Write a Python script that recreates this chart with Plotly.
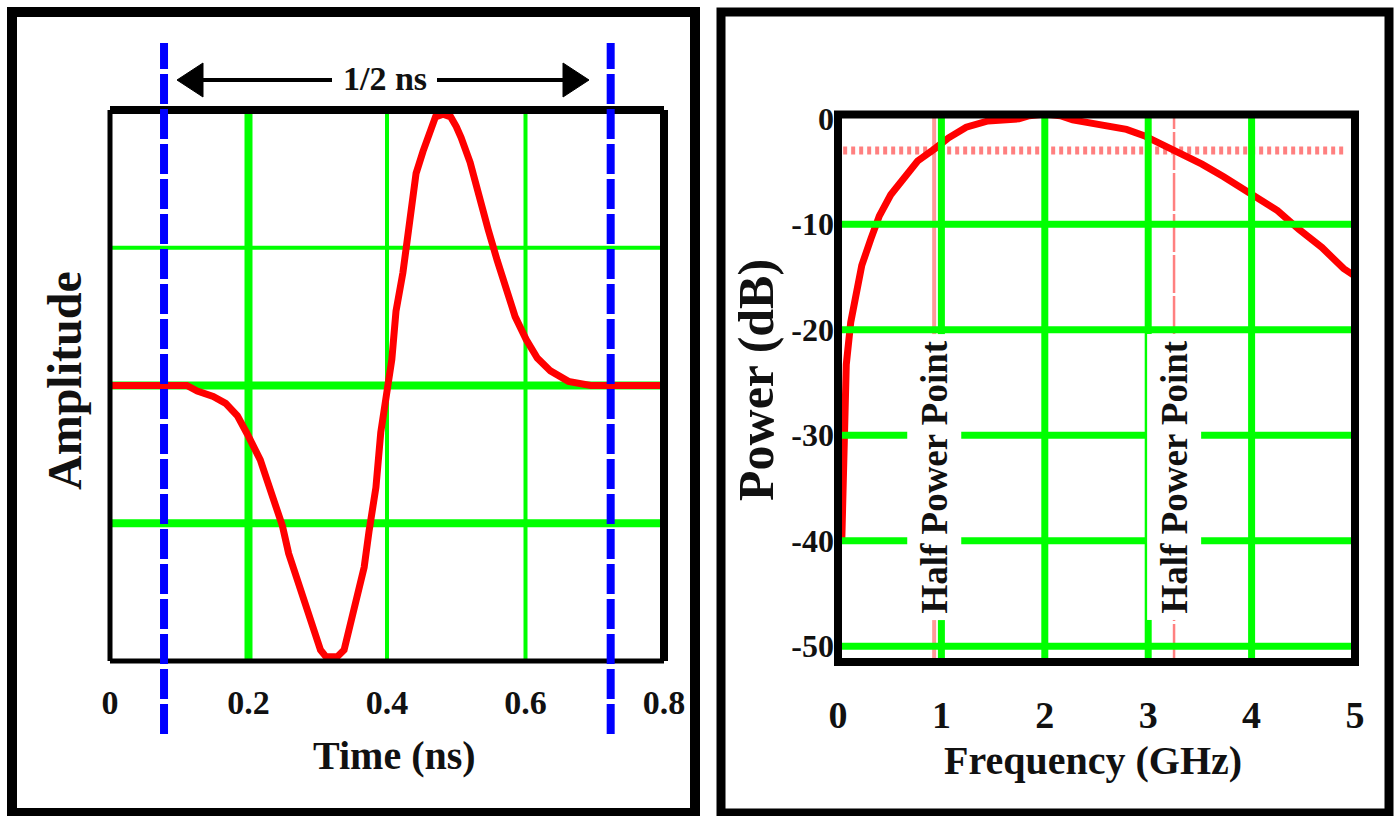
import plotly.graph_objects as go

W, H = 1395, 816

# ---------------- data ----------------
# Left panel: pulse waveform (amplitude vs time in ns)
pulse_t = [0.0, 0.111, 0.126, 0.149, 0.167, 0.184, 0.198, 0.208, 0.217, 0.227,
           0.237, 0.249, 0.258, 0.271, 0.280, 0.292, 0.304, 0.312, 0.328, 0.338,
           0.345, 0.355, 0.367, 0.374, 0.384, 0.391, 0.401, 0.407, 0.413, 0.423,
           0.433, 0.442, 0.452, 0.462, 0.470, 0.481, 0.492, 0.500, 0.507, 0.520,
           0.533, 0.546, 0.559, 0.572, 0.585, 0.601, 0.617, 0.636, 0.662, 0.694, 0.8]
pulse_amp = [0.0, 0.0, -0.02, -0.04, -0.065, -0.11, -0.175, -0.22, -0.27, -0.345,
             -0.43, -0.51, -0.61, -0.71, -0.79, -0.88, -0.96, -0.985, -0.985, -0.96,
             -0.89, -0.79, -0.66, -0.53, -0.37, -0.17, 0.0, 0.095, 0.27, 0.41,
             0.60, 0.77, 0.85, 0.92, 0.975, 0.985, 0.975, 0.94, 0.90, 0.81,
             0.68, 0.567, 0.455, 0.36, 0.25, 0.167, 0.10, 0.053, 0.015, 0.0, 0.0]
time_ticks = [0, 0.2, 0.4, 0.6, 0.8]
time_tick_text = ["0", "0.2", "0.4", "0.6", "0.8"]
time_grid = [0.2, 0.4, 0.6]
amp_grid = [0.5, 0.0, -0.5]
window_edges_ns = [0.078, 0.723]
span_label = "1/2 ns"

# Right panel: power spectrum (dB vs GHz)
spec_f = [0.037, 0.058, 0.08, 0.123, 0.165, 0.23, 0.317, 0.40, 0.51, 0.64,
          0.77, 0.94, 1.07, 1.24, 1.45, 1.75, 1.85, 2.0, 2.15, 2.27, 2.53, 2.79,
          2.96, 3.13, 3.30, 3.52, 3.73, 3.99, 4.25, 4.46, 4.68, 4.89, 5.06]
spec_db = [-39.8, -27.2, -23.3, -19.3, -16.9, -13.9, -11.4, -9.2, -7.2, -5.5,
           -4.0, -2.8, -1.8, -0.8, -0.2, 0.0, 0.3, 0.45, 0.3, -0.1, -0.5, -1.0,
           -1.6, -2.4, -3.3, -4.3, -5.5, -7.1, -8.7, -10.5, -12.2, -14.2, -15.3]
freq_ticks = [0, 1, 2, 3, 4, 5]
freq_tick_text = ["0", "1", "2", "3", "4", "5"]
freq_grid = [1, 2, 3, 4]
db_ticks = [0, -10, -20, -30, -40, -50]
db_tick_text = ["0", "-10", "-20", "-30", "-40", "-50"]
db_grid = [-10, -20, -30, -40, -50]
half_power_db = -3
half_power_f = [0.93, 3.25]
half_power_label = "Half Power Point"
half_power_label_db = -34

# ---------------- styling ----------------
RED = "#FF0000"
GREEN = "#00FF00"
BLUE = "#0000FF"
SALMON = "#FF8080"
SERIF = "Liberation Serif"
TXT = "#111111"

time_grid_width = {0.2: 8, 0.4: 4, 0.6: 4}
amp_grid_width = {0.5: 4, 0.0: 8, -0.5: 8}


def fx(px):
    return px / W


def fy(py):
    return 1 - py / H


fig = go.Figure()

fig.add_trace(go.Scatter(x=pulse_t, y=pulse_amp, mode="lines",
                         line=dict(color=RED, width=7),
                         xaxis="x", yaxis="y", showlegend=False, hoverinfo="skip"))
fig.add_trace(go.Scatter(x=spec_f, y=spec_db, mode="lines",
                         line=dict(color=RED, width=7),
                         xaxis="x2", yaxis="y2", showlegend=False, hoverinfo="skip"))

shapes = []

# left grid (under the curve)
for t in time_grid:
    shapes.append(dict(type="line", xref="x", yref="y domain", x0=t, x1=t, y0=0, y1=1,
                       line=dict(color=GREEN, width=time_grid_width[t]), layer="below"))
for a in amp_grid:
    shapes.append(dict(type="line", xref="x domain", yref="y", x0=0, x1=1, y0=a, y1=a,
                       line=dict(color=GREEN, width=amp_grid_width[a]), layer="below"))

# right: half-power guides
shapes.append(dict(type="line", xref="x2", yref="y2", x0=freq_ticks[0] + 0.05, x1=freq_ticks[-1] - 0.08,
                   y0=half_power_db, y1=half_power_db,
                   line=dict(color=SALMON, width=8, dash="4px,4px"), layer="below"))
shapes.append(dict(type="line", xref="x2", yref="y2 domain", x0=half_power_f[0], x1=half_power_f[0],
                   y0=0, y1=1, line=dict(color="#FF9999", width=4), layer="below"))
shapes.append(dict(type="line", xref="x2", yref="y2 domain", x0=half_power_f[1], x1=half_power_f[1],
                   y0=0, y1=1, line=dict(color=SALMON, width=2.5, dash="38px,3px"), layer="below"))

# right grid (over the curve)
for f in freq_grid:
    shapes.append(dict(type="line", xref="x2", yref="y2 domain", x0=f, x1=f, y0=0, y1=1,
                       line=dict(color=GREEN, width=7), layer="above"))
for d in db_grid:
    shapes.append(dict(type="line", xref="x2 domain", yref="y2", x0=0, x1=1, y0=d, y1=d,
                       line=dict(color=GREEN, width=7), layer="above"))

# left plot frame (top/right heavier than left/bottom)
frame_l = [(0, 0, 0, 1, 5), (0, 1, 0, 0, 5), (0, 1, 1, 1, 8), (1, 1, 0, 1, 8)]
for x0, x1, y0, y1, w in frame_l:
    shapes.append(dict(type="line", xref="x domain", yref="y domain", x0=x0, x1=x1, y0=y0, y1=y1,
                       line=dict(color="black", width=w), layer="above"))
shapes.append(dict(type="rect", xref="x2 domain", yref="y2 domain", x0=0, x1=1, y0=0, y1=1,
                   line=dict(color="black", width=8), layer="above"))

# blue window markers
for t in window_edges_ns:
    shapes.append(dict(type="line", xref="x", yref="paper", x0=t, x1=t, y0=fy(734), y1=fy(43),
                       line=dict(color=BLUE, width=8, dash="30px,5px"), layer="above"))

# span arrow
ay = fy(80)
shapes.append(dict(type="line", xref="paper", yref="paper", x0=fx(200), x1=fx(332), y0=ay, y1=ay,
                   line=dict(color="black", width=4)))
shapes.append(dict(type="line", xref="paper", yref="paper", x0=fx(437), x1=fx(566), y0=ay, y1=ay,
                   line=dict(color="black", width=4)))
shapes.append(dict(type="path", xref="paper", yref="paper",
                   path=f"M {fx(177)} {ay} L {fx(203)} {fy(63)} L {fx(203)} {fy(97)} Z",
                   fillcolor="black", line=dict(color="black", width=1)))
shapes.append(dict(type="path", xref="paper", yref="paper",
                   path=f"M {fx(589)} {ay} L {fx(563)} {fy(63)} L {fx(563)} {fy(97)} Z",
                   fillcolor="black", line=dict(color="black", width=1)))

# outer panel borders
shapes.append(dict(type="rect", xref="paper", yref="paper", x0=fx(12), x1=fx(695), y0=fy(813), y1=fy(12),
                   line=dict(color="black", width=10)))
shapes.append(dict(type="rect", xref="paper", yref="paper", x0=fx(721), x1=fx(1389), y0=fy(813), y1=fy(12),
                   line=dict(color="black", width=9)))

annotations = []
for f in half_power_f:
    annotations.append(dict(x=f, y=half_power_label_db, xref="x2", yref="y2", text=half_power_label,
                            textangle=-90, showarrow=False, bgcolor="white", borderpad=6,
                            font=dict(family=SERIF, size=37, color=TXT, weight="bold")))


def label(text, px, py, size, angle=0):
    return dict(x=fx(px), y=fy(py), xref="paper", yref="paper", text=text, showarrow=False,
                xanchor="center", yanchor="middle", textangle=angle,
                font=dict(family=SERIF, size=size, color=TXT, weight="bold"))


annotations.append(label(span_label, 385, 78, 34))
annotations.append(label("Time (ns)", 394, 755, 40))
annotations.append(label("Amplitude", 64, 381, 48, -90))
annotations.append(label("Frequency (GHz)", 1093, 760, 40))
annotations.append(label("Power (dB)", 756, 380, 50, -90))

tick_font_l = dict(family=SERIF, size=34, color=TXT, weight="bold")
tick_font_r = dict(family=SERIF, size=38, color=TXT, weight="bold")
tick_font_ry = dict(family=SERIF, size=32, color=TXT, weight="bold")

fig.update_layout(
    width=W, height=H, margin=dict(l=0, r=0, t=0, b=0, pad=0, autoexpand=False),
    paper_bgcolor="white", plot_bgcolor="white", showlegend=False,
    xaxis=dict(domain=[fx(110), fx(664)], range=[time_ticks[0], time_ticks[-1]], anchor="y",
               tickvals=time_ticks, ticktext=time_tick_text, tickfont=tick_font_l, automargin=False,
               showgrid=False, zeroline=False, showline=False, ticks="", ticklabelstandoff=18),
    yaxis=dict(domain=[fy(661), fy(110)], range=[-1, 1], anchor="x", automargin=False,
               showticklabels=False, showgrid=False, zeroline=False, showline=False, ticks=""),
    xaxis2=dict(domain=[fx(838), fx(1355)], range=[freq_ticks[0], freq_ticks[-1]], anchor="y2",
                tickvals=freq_ticks, ticktext=freq_tick_text, tickfont=tick_font_r, automargin=False,
                showgrid=False, zeroline=False, showline=False, ticks="", ticklabelstandoff=27),
    yaxis2=dict(domain=[fy(662), fy(114.6)], range=[-51.5, 0.4], anchor="x2", automargin=False,
                tickvals=db_ticks, ticktext=db_tick_text, tickfont=tick_font_ry,
                showgrid=False, zeroline=False, showline=False, ticks="", ticklabelstandoff=3),
    shapes=shapes, annotations=annotations,
)

fig.write_html("out.html", config={"displayModeBar": False},
               post_script="document.body.style.margin='0';document.body.style.overflow='hidden';")
